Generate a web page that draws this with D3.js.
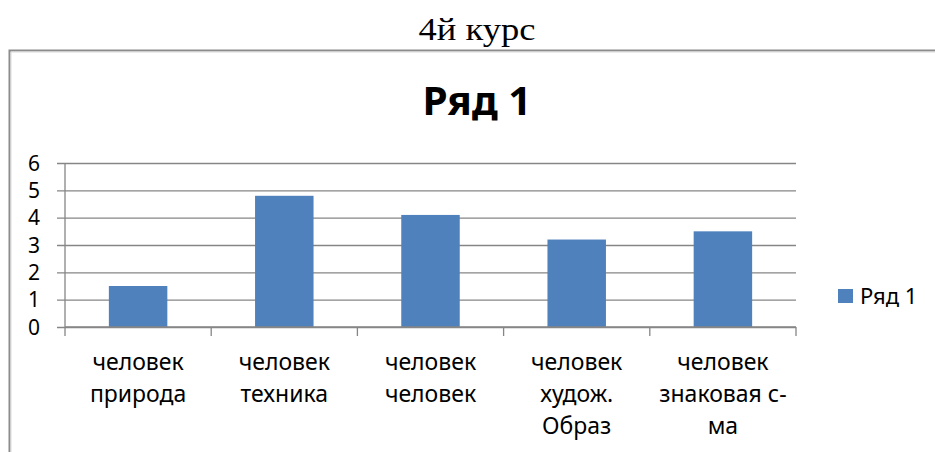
<!DOCTYPE html>
<html>
<head>
<meta charset="utf-8">
<script src="https://cdn.jsdelivr.net/npm/d3@7"></script>
<style>
  html, body { margin: 0; padding: 0; background: #fff; }
  svg { display: block; }
</style>
</head>
<body>
<svg id="chart" width="935" height="452"></svg>
<script>
// ---- data ----
const categories = ["человек природа", "человек техника", "человек человек", "человек худож. Образ", "человек знаковая с-ма"];
const categoryLines = [["человек", "природа"], ["человек", "техника"], ["человек", "человек"], ["человек", "худож.", "Образ"], ["человек", "знаковая с-", "ма"]];
const values = [1.5, 4.8, 4.1, 3.2, 3.5];
const yTicks = [0, 1, 2, 3, 4, 5, 6];
const seriesName = "Ряд 1";
const pageTitle = "4й курс";

// ---- layout ----
const W = 935, H = 452;
const plot = { left: 65, right: 796, top: 163, bottom: 327 };
const sansFont = "'Noto Sans', 'Open Sans', sans-serif";
const gridColor = "#868686";
const barColor = "#4F81BD";

const svg = d3.select("#chart");

// outer chart frame
svg.append("path")
  .attr("d", `M${W + 5},50.5 H9.5 V${H + 5}`)
  .attr("fill", "none")
  .attr("stroke", "#8c8c8c")
  .attr("stroke-width", 2);
svg.append("path")
  .attr("d", `M${W + 5},52 H11 V${H + 5}`)
  .attr("fill", "none")
  .attr("stroke", "#d9d9d9")
  .attr("stroke-width", 1);

// page title (document text above the chart)
svg.append("text")
  .attr("x", 477).attr("y", 40)
  .attr("text-anchor", "middle")
  .attr("font-family", "'Liberation Serif', 'Times New Roman', serif")
  .attr("font-size", 31)
  .attr("textLength", 117)
  .attr("lengthAdjust", "spacingAndGlyphs")
  .attr("fill", "#000")
  .text(pageTitle);

// chart title
svg.append("text")
  .attr("x", 477).attr("y", 115)
  .attr("text-anchor", "middle")
  .attr("font-family", sansFont)
  .attr("font-weight", "bold")
  .attr("font-size", 40)
  .attr("textLength", 109)
  .attr("lengthAdjust", "spacingAndGlyphs")
  .attr("fill", "#000")
  .text(seriesName);

// scales
const x = d3.scaleBand().domain(categories).range([plot.left, plot.right]).paddingInner(0).paddingOuter(0);
const y = d3.scaleLinear().domain([0, 6]).range([plot.bottom, plot.top]);

// gridlines (ticks outward 8px)
const yAxis = d3.axisLeft(y).tickValues(yTicks).tickSize(plot.right - plot.left + 8).tickPadding(0).tickFormat(d3.format("d"));
const gy = svg.append("g").attr("transform", `translate(${plot.right},0)`).call(yAxis);
gy.select(".domain").remove();
gy.selectAll(".tick line").attr("stroke", gridColor).attr("stroke-width", 1.3);
gy.selectAll(".tick text").remove();

// y tick labels
svg.append("g").selectAll("text").data(yTicks).join("text")
  .attr("x", 40).attr("y", d => y(d) + 7.5)
  .attr("text-anchor", "end")
  .attr("font-family", sansFont)
  .attr("font-size", 21)
  .attr("fill", "#000")
  .text(d => d);

// y axis line
svg.append("line")
  .attr("x1", plot.left).attr("x2", plot.left)
  .attr("y1", plot.top).attr("y2", plot.bottom)
  .attr("stroke", gridColor).attr("stroke-width", 1.3);

// bars
const barW = x.bandwidth() * 0.4;
svg.append("g").selectAll("rect").data(values).join("rect")
  .attr("x", (d, i) => x(categories[i]) + x.bandwidth() / 2 - barW / 2)
  .attr("y", d => y(d))
  .attr("width", barW)
  .attr("height", d => y(0) - y(d))
  .attr("fill", barColor);

// x axis with tick marks at band boundaries
const xAxis = d3.axisBottom(x).tickSize(0).tickFormat("");
const gx = svg.append("g").attr("transform", `translate(0,${plot.bottom})`).call(xAxis);
gx.select(".domain").attr("stroke", gridColor).attr("stroke-width", 1.3).attr("d", `M${plot.left},0 H${plot.right}`);
const boundaries = categories.map(c => x(c)).concat([x(categories[categories.length - 1]) + x.bandwidth()]);
gx.selectAll(".bline").data(boundaries).join("line")
  .attr("class", "bline")
  .attr("x1", d => d).attr("x2", d => d)
  .attr("y1", 0).attr("y2", 9)
  .attr("stroke", gridColor).attr("stroke-width", 1.3);

// category labels (wrapped)
const lab = svg.append("g").selectAll("text").data(categoryLines).join("text")
  .attr("text-anchor", "middle")
  .attr("font-family", sansFont)
  .attr("font-size", 23)
  .attr("fill", "#000")
  .attr("transform", (d, i) => `translate(${x(categories[i]) + x.bandwidth() / 2},370)`);
lab.selectAll("tspan").data(d => d).join("tspan")
  .attr("x", 0)
  .attr("y", (d, j) => j * 32)
  .text(d => d);

// legend
const lg = svg.append("g").attr("transform", "translate(838,289)");
lg.append("rect").attr("width", 15).attr("height", 14).attr("fill", barColor);
lg.append("text").attr("x", 22).attr("y", 15)
  .attr("font-family", sansFont).attr("font-size", 22).attr("fill", "#000")
  .text(seriesName);
</script>
</body>
</html>
